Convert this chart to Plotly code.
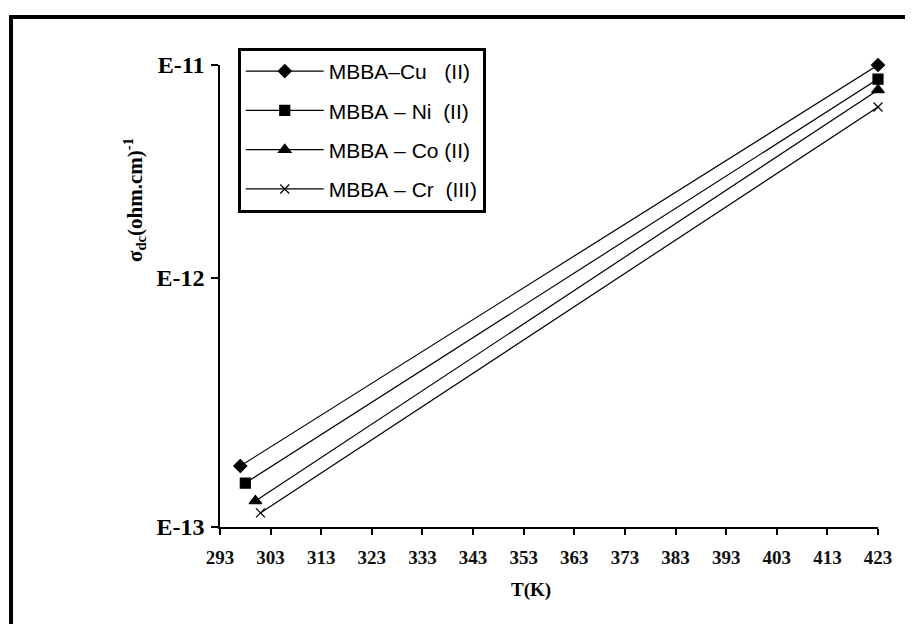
import plotly.graph_objects as go

# ---- data (log10 of sigma_dc) ----
series_names = ["MBBA\u2013Cu\u00a0\u00a0\u00a0(II)",
                "MBBA\u00a0\u2013\u00a0Ni\u00a0\u00a0(II)",
                "MBBA\u00a0\u2013\u00a0Co\u00a0(II)",
                "MBBA\u00a0\u2013\u00a0Cr\u00a0\u00a0(III)"]
temps_cu = [297, 423]
temps_ni = [298, 423]
temps_co = [300, 423]
temps_cr = [301, 423]
logsig_cu = [-12.736, -11.0]
logsig_ni = [-12.81, -11.061]
logsig_co = [-12.887, -11.108]
logsig_cr = [-12.939, -11.182]
marker_symbols = ["diamond", "square", "triangle-up", "x-thin-open"]
marker_sizes = [10, 10, 11, 9]

x_ticks = list(range(293, 424, 10))
y_tick_vals = [-13, -11.922, -11]
y_tick_text = ["E-13", "E-12", "E-11"]

temps = [temps_cu, temps_ni, temps_co, temps_cr]
logsig = [logsig_cu, logsig_ni, logsig_co, logsig_cr]

fig = go.Figure()
for i, name in enumerate(series_names):
    fig.add_trace(go.Scatter(
        x=temps[i], y=logsig[i], name=name, mode="lines+markers",
        legendgroup="g%d" % i,
        line=dict(color="black", width=1.2),
        marker=dict(symbol=marker_symbols[i], size=marker_sizes[i], color="black",
                    line=dict(color="black", width=1.2)),
        cliponaxis=False,
    ))

serif = "Liberation Serif"
fig.update_layout(
    width=905, height=616,
    margin=dict(l=212, r=35, t=57, b=97),
    paper_bgcolor="white", plot_bgcolor="white",
    showlegend=True,
    legend=dict(x=0.027, y=1.037, xanchor="left", yanchor="top",
                bgcolor="white", bordercolor="black", borderwidth=3,
                font=dict(family="Liberation Sans", size=21, color="black"),
                tracegroupgap=9, itemwidth=78),
    xaxis=dict(range=[293, 423], tickvals=x_ticks, ticktext=[str(v) for v in x_ticks],
               showgrid=False, zeroline=False, showline=True, linecolor="black", linewidth=1.5,
               ticks="outside", ticklen=6, tickcolor="black", tickwidth=1.5,
               ticklabelstandoff=6,
               tickfont=dict(family=serif, size=19, color="#111", weight="bold")),
    yaxis=dict(range=[-13, -11], tickvals=y_tick_vals, ticktext=y_tick_text,
               showgrid=False, zeroline=False, showline=True, linecolor="black", linewidth=1.5,
               ticks="outside", ticklen=7, tickcolor="black", tickwidth=1.5,
               ticklabelstandoff=2,
               tickfont=dict(family=serif, size=24, color="black", weight="bold")),
    annotations=[
        dict(text="\u03c3<sub>dc</sub>(ohm.cm)<sup>-1</sup>", textangle=-90,
             x=-0.129, y=0.708, xref="paper", yref="paper", showarrow=False,
             xanchor="center", yanchor="middle",
             font=dict(family=serif, size=21, color="black", weight="bold")),
        dict(text="T(K)", x=0.473, y=-0.136, xref="paper", yref="paper", showarrow=False,
             xanchor="center", yanchor="middle",
             font=dict(family=serif, size=19, color="black", weight="bold")),
    ],
    shapes=[
        dict(type="rect", xref="paper", yref="paper", x0=-0.3176, x1=1.5, y0=-0.6, y1=1.1039,
             line=dict(color="black", width=4), fillcolor="rgba(0,0,0,0)", layer="below"),
    ],
)

fig.write_html("out.html")
